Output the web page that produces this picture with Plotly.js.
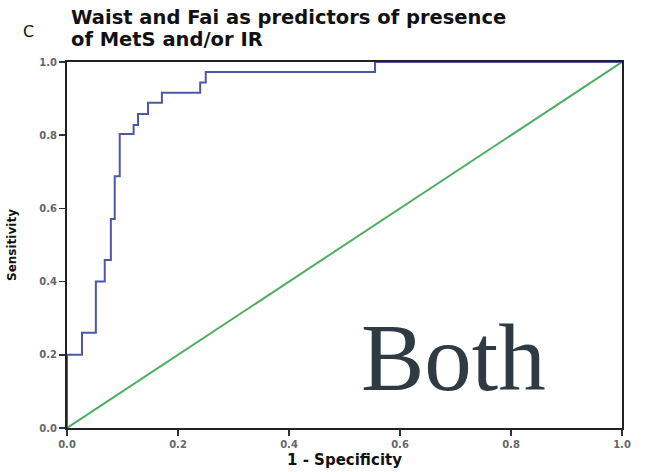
<!DOCTYPE html>
<html><head><meta charset="utf-8">
<script src="https://cdn.plot.ly/plotly-3.0.1.min.js"></script>
<style>body{margin:0;background:#fff}#c{width:646px;height:472px}</style>
</head><body><div id="c"></div>
<script>
// ROC curve points (1 - specificity, sensitivity), step curve
var fpr = [0, 0, 0.027, 0.027, 0.052, 0.052, 0.068, 0.068, 0.079, 0.079, 0.086, 0.086, 0.095, 0.095, 0.12, 0.12, 0.128, 0.128, 0.146, 0.146, 0.171, 0.171, 0.24, 0.24, 0.25, 0.25, 0.555, 0.555, 1.0];
var tpr = [0, 0.2, 0.2, 0.26, 0.26, 0.40, 0.40, 0.459, 0.459, 0.571, 0.571, 0.688, 0.688, 0.803, 0.803, 0.828, 0.828, 0.858, 0.858, 0.889, 0.889, 0.916, 0.916, 0.944, 0.944, 0.973, 0.973, 1.0, 1.0];
var refX = [0, 1];
var refY = [0, 1];
var tickVals = [0, 0.2, 0.4, 0.6, 0.8, 1.0];
var tickText = ["0.0", "0.2", "0.4", "0.6", "0.8", "1.0"];
var titleLines = ["Waist and Fai as predictors of presence", "of MetS and/or IR"];

var F = 'DejaVu Sans, Arial, sans-serif';
var traces = [
  {x: refX, y: refY, mode: 'lines', line: {color: '#4cae62', width: 2}, hoverinfo: 'skip'},
  {x: fpr, y: tpr, mode: 'lines', line: {color: '#4b58a6', width: 2}, hoverinfo: 'skip'}
];
var axisCommon = {
  range: [0, 1], tickvals: tickVals, ticktext: tickText,
  showline: true, linecolor: '#222', linewidth: 2, mirror: true,
  ticks: 'outside', ticklen: 6, tickwidth: 1.5, tickcolor: '#333',
  showgrid: false, zeroline: false,
  tickfont: {family: F, size: 10, color: '#666', weight: 'bold'}
};
var layout = {
  width: 646, height: 472,
  margin: {l: 67, r: 24, t: 62, b: 44},
  paper_bgcolor: '#fff', plot_bgcolor: '#fff',
  showlegend: false,
  xaxis: Object.assign({}, axisCommon, {
    title: {text: '1 - Specificity', standoff: 5, font: {family: F, size: 15, color: '#111', weight: 'bold'}}
  }),
  yaxis: Object.assign({}, axisCommon, {
    title: {text: 'Sensitivity', standoff: 20, font: {family: F, size: 12, color: '#111', weight: 'bold'}}
  }),
  annotations: [
    {xref: 'paper', yref: 'paper', x: -0.07, y: 1.083, xanchor: 'center', yanchor: 'middle', text: 'C', showarrow: false,
     font: {family: F, size: 16, color: '#111'}},
    {xref: 'paper', yref: 'paper', x: 0.003, y: 1.122, xanchor: 'left', yanchor: 'middle',
     text: titleLines[0], showarrow: false,
     font: {family: F, size: 19.5, color: '#111', weight: 'bold'}},
    {xref: 'paper', yref: 'paper', x: 0.003, y: 1.061, xanchor: 'left', yanchor: 'middle',
     text: titleLines[1], showarrow: false,
     font: {family: F, size: 19.5, color: '#111', weight: 'bold'}},
    {xref: 'x', yref: 'y', x: 0.697, y: 0.19, xanchor: 'center', yanchor: 'middle', text: 'Both', showarrow: false,
     font: {family: 'Liberation Serif, Times New Roman, serif', size: 95, color: '#2e3b42'}}
  ]
};
Plotly.newPlot('c', traces, layout, {displayModeBar: false, staticPlot: true});
</script></body></html>
